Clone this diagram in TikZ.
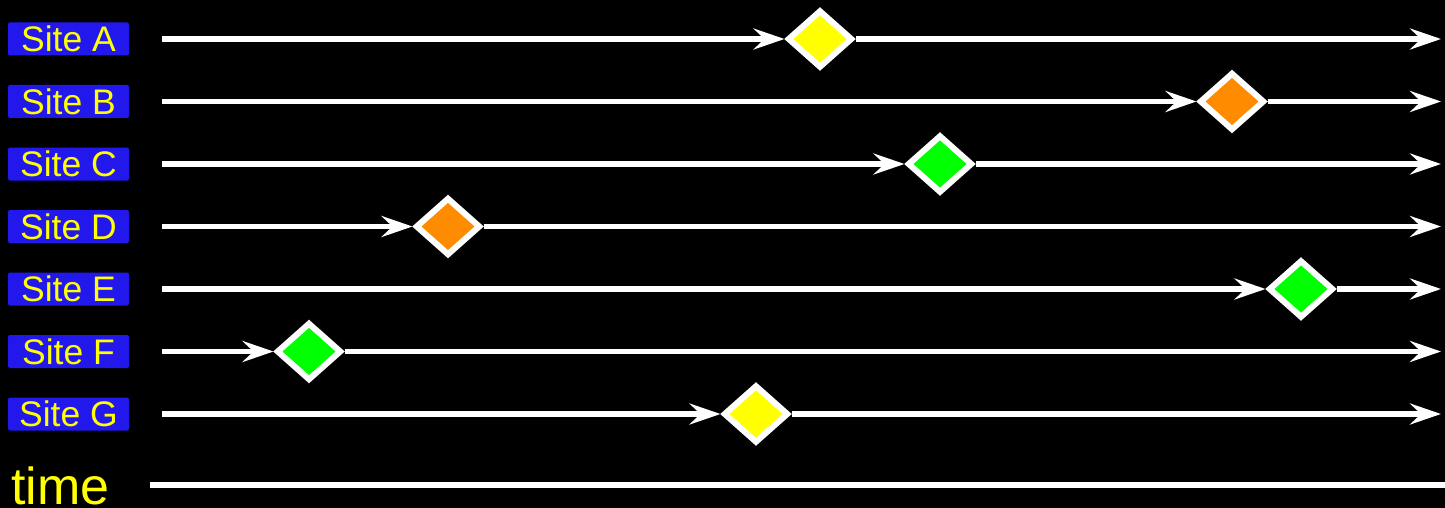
\documentclass[tikz,border=0pt]{standalone}
\usepackage{fontspec}
\setmainfont{Liberation Sans}
\usepackage{xcolor}
\usepackage{tikz}
\usetikzlibrary{arrows.meta,shapes.geometric}
\definecolor{siteblue}{HTML}{2218EC}
\definecolor{eventyellow}{HTML}{FFFF00}
\definecolor{eventorange}{HTML}{FF8C00}
\definecolor{eventgreen}{HTML}{00FF00}

\begin{document}
\begin{tikzpicture}[
  x=1pt, y=-1pt,
  sitelabel/.style={rectangle, rounded corners=2pt, fill=siteblue, text=eventyellow,
    minimum width=121pt, minimum height=33pt, inner sep=0pt,
    font=\fontsize{35.5}{40}\selectfont},
  event/.style={diamond, draw=white, line width=6pt, minimum width=65pt,
    minimum height=58pt, inner sep=0pt},
  flow/.style={draw=white, line width=5.5pt,
    -{Stealth[length=31pt, width=21pt, inset=11pt]}},
  timeline/.style={draw=white, line width=6pt}
]
  \fill[black] (0,0) rectangle (1445,508);
  \useasboundingbox (0,0) rectangle (1445,508);

  \foreach \name/\pos/\tone [count=\i] in {A/820/eventyellow, B/1232/eventorange,
      C/940/eventgreen, D/448/eventorange, E/1301/eventgreen, F/309/eventgreen,
      G/756/eventyellow} {
    \pgfmathsetmacro\rowy{39+62.5*(\i-1)}
    \node[sitelabel] (label\name) at (68.5,\rowy) {Site \name};
    \coordinate (start\name) at (162,\rowy);
    \coordinate (end\name) at (1441,\rowy);
    \node[event, fill=\tone] (event\name) at (\pos,\rowy) {};
    \draw[flow] (start\name) -- (event\name.west);
    \draw[flow] (event\name.east) -- (end\name);
  }

  % time axis
  \node[anchor=base west, inner sep=0pt, text=eventyellow,
    font=\fontsize{52}{58}\selectfont] (timelabel) at (11,504) {time};
  \coordinate (timestart) at (150,485);
  \coordinate (timeend) at (1445,485);
  \draw[timeline] (timestart) -- (timeend);
\end{tikzpicture}
\end{document}
